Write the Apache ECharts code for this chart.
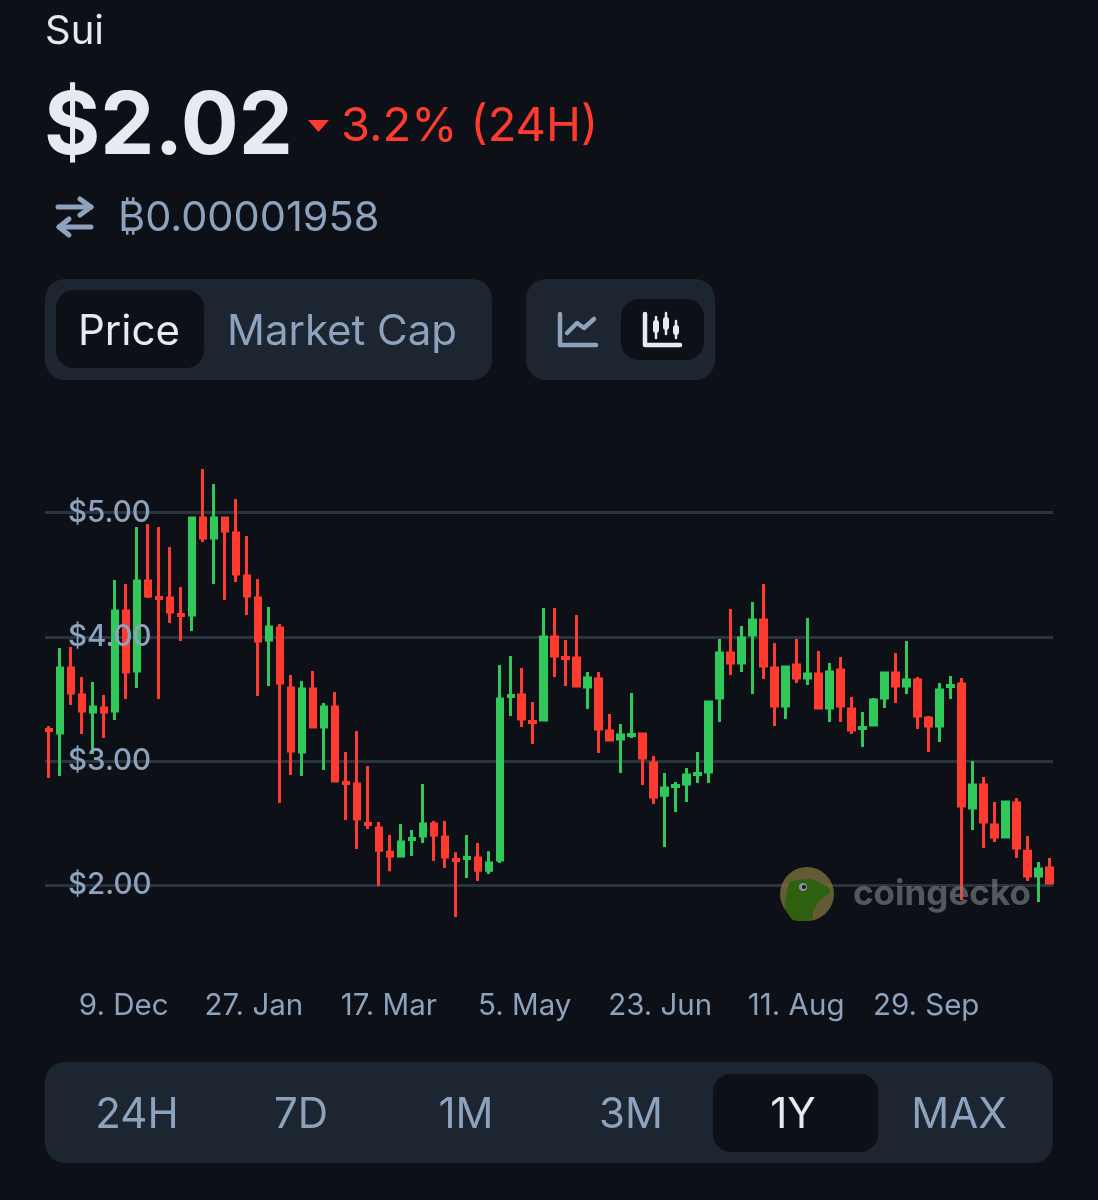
<!DOCTYPE html>
<html>
<head>
<meta charset="utf-8">
<title>Sui</title>
<script src="https://cdn.jsdelivr.net/npm/echarts@6/dist/echarts.min.js"></script>
<style>
	html, body { margin: 0; padding: 0; background: #0d1117; }
	#main { width: 1098px; height: 1200px; }
</style>
</head>
<body>
<div id="main"></div>
<script>
// 4-day candles
var opens = [3.254,3.226,3.750,3.532,3.395,3.428,3.403,4.208,3.725,4.450,
	4.317,4.313,4.180,4.176,4.957,4.796,4.957,4.836,4.490,4.313,
	3.975,4.072,3.589,3.073,3.581,3.275,3.436,2.827,2.815,2.497,
	2.461,2.267,2.235,2.368,2.396,2.493,2.388,2.207,2.215,2.219,
	2.122,2.203,3.520,3.532,3.319,3.331,3.999,3.834,3.830,3.597,
	3.661,3.242,3.178,3.206,3.218,2.985,2.726,2.795,2.815,2.892,
	2.912,3.508,3.870,3.789,4.015,4.136,3.750,3.444,3.774,3.669,
	3.701,3.428,3.733,3.420,3.262,3.291,3.508,3.709,3.605,3.653,
	3.347,3.283,3.601,3.621,2.622,2.807,2.485,2.388,2.662,2.275,
	2.074,2.139];
var closes = [3.246,3.750,3.548,3.403,3.436,3.395,4.208,3.717,4.450,4.329,
	4.309,4.200,4.172,4.957,4.796,4.957,4.852,4.506,4.329,3.967,
	4.080,3.629,3.081,3.581,3.275,3.436,2.839,2.819,2.533,2.489,
	2.283,2.235,2.348,2.376,2.493,2.404,2.227,2.199,2.223,2.122,
	2.179,3.500,3.528,3.339,3.311,3.999,3.846,3.826,3.605,3.669,
	3.258,3.170,3.210,3.214,3.025,2.710,2.783,2.803,2.888,2.900,
	3.476,3.870,3.789,3.991,4.136,3.766,3.444,3.758,3.669,3.701,
	3.428,3.717,3.444,3.250,3.270,3.492,3.709,3.605,3.653,3.363,
	3.283,3.572,3.609,2.638,2.807,2.509,2.388,2.670,2.300,2.074,
	2.131,2.018];
var lows = [2.864,2.880,3.452,3.218,3.057,3.186,3.331,3.500,3.589,4.313,
	3.500,4.112,3.967,4.048,4.764,4.426,4.297,4.442,4.176,3.524,
	3.605,2.662,2.888,2.880,3.267,2.928,2.831,2.525,2.292,2.453,
	1.994,2.114,2.227,2.235,2.340,2.195,2.139,1.744,2.058,2.034,
	2.090,2.179,3.363,3.275,3.137,3.323,3.677,3.605,3.597,3.420,
	3.065,3.162,2.904,3.186,2.807,2.654,2.308,2.590,2.670,2.823,
	2.823,3.315,3.693,3.717,3.540,3.661,3.283,3.339,3.629,3.613,
	3.420,3.315,3.315,3.218,3.113,3.283,3.428,3.468,3.540,3.258,
	3.073,3.154,3.500,1.881,2.445,2.300,2.348,2.380,2.219,2.034,
	1.865,2.010];
var highs = [3.283,3.911,3.919,3.677,3.637,3.532,4.458,4.426,4.885,4.909,
	4.885,4.724,4.402,4.965,5.352,5.231,4.965,5.110,4.812,4.466,
	4.241,4.104,3.693,3.645,3.725,3.468,3.556,3.073,3.242,2.961,
	2.509,2.404,2.493,2.445,2.815,2.517,2.517,2.267,2.404,2.340,
	2.275,3.773,3.846,3.750,3.476,4.232,4.232,3.975,4.176,3.717,
	3.717,3.379,3.299,3.548,3.226,3.041,2.904,2.831,2.944,3.073,
	3.484,3.983,4.224,4.088,4.281,4.426,3.951,3.766,3.983,4.152,
	3.886,3.790,3.838,3.516,3.395,3.508,3.717,3.870,3.967,3.677,
	3.363,3.629,3.685,3.669,3.001,2.872,2.670,2.678,2.702,2.396,
	2.187,2.219];
var xLabels = ['9. Dec','27. Jan','17. Mar','5. May','23. Jun','11. Aug','29. Sep'];
var xLabelSlots = [6.78,18.63,30.9,43.27,55.6,67.97,79.8];
var yTicks = [2,3,4,5];
var rangeTabs = ['24H','7D','1M','3M','1Y','MAX'];

var bg = '#0d1117', panel = '#1c2530', muted = '#8da2bd', light = '#e6ebf2', red = '#ff3b30', green = '#30c85a';
var fontName = 'Inter, "Noto Sans", sans-serif';

var candleData = [];
for (var i = 0; i < opens.length; i++) {
	candleData.push([i, opens[i], closes[i], lows[i], highs[i]]);
}

var txt = function(text, x, y, size, fill, weight, align) {
	return {
		type: 'text', z: 20,
		style: {
			text: text, x: x, y: y, fill: fill,
			font: (weight || 400) + ' ' + size + 'px ' + fontName,
			textAlign: align || 'left', textVerticalAlign: 'middle'
		}
	};
};
var box = function(x, y, w, h, r, fill) {
	return { type: 'rect', z: 1, shape: { x: x, y: y, width: w, height: h, r: r }, style: { fill: fill } };
};
var line = function(points, color, width) {
	return { type: 'polyline', z: 20, shape: { points: points }, style: { stroke: color, lineWidth: width, fill: null, lineCap: 'round', lineJoin: 'round' } };
};

var graphics = [
	txt('Sui', 45, 32, 40, light),
	txt('$2.02', 44, 128, 86, light, 700),
	{ type: 'polygon', z: 20, shape: { points: [[308,120],[329,120],[318.5,132]] }, style: { fill: red } },
	txt('3.2% (24H)', 341, 127, 47, red),
	line([[58,207],[91,207]], muted, 5),
	line([[80,199],[91,207],[80,215]], muted, 5),
	line([[91,227],[59,227]], muted, 5),
	line([[69,219],[59,227],[69,235]], muted, 5),
	txt('\u20BF0.00001958', 118, 219, 41.5, muted),
	// tabs
	box(45, 279, 447, 101, 20, panel),
	box(56, 290, 148, 78, 18, bg),
	txt('Price', 129, 332, 42, light, 400, 'center'),
	txt('Market Cap', 342, 332, 42, muted, 400, 'center'),
	box(526, 279, 189, 101, 20, panel),
	box(621, 299, 83, 61, 18, bg),
	line([[560,314],[560,345],[596,345]], muted, 4.5),
	line([[567,333],[577,323],[584,328],[594,319]], muted, 4.5),
	line([[645,314],[645,345],[680,345]], light, 4.5),
	line([[656,317],[656,338]], light, 2.5),
	box(653, 320, 6, 13, 3, light),
	line([[666,313],[666,334]], light, 2.5),
	box(663, 317, 6, 13, 3, light),
	line([[676,321],[676,338]], light, 2.5),
	box(673, 325, 6, 10, 3, light),
	// watermark
	{ type: 'circle', z: 10, shape: { cx: 807, cy: 894, r: 27 }, style: { fill: 'rgba(134,120,64,0.72)' } },
	{ type: 'polygon', z: 11, shape: { points: [[790,882],[810,879],[828,887],[830,893],[820,900],[813,912],[812,920],[793,920],[785,908],[787,892]], smooth: 0.2 }, style: { fill: '#2f6010' } },
	{ type: 'circle', z: 12, shape: { cx: 803, cy: 887, r: 4 }, style: { fill: '#8f8f9a' } },
	{ type: 'circle', z: 13, shape: { cx: 804, cy: 887, r: 2 }, style: { fill: '#15181c' } },
	{ type: 'text', z: 10, style: { text: 'coingecko', x: 853, y: 894, fill: 'rgba(128,132,138,0.62)', font: '700 35px ' + fontName, textVerticalAlign: 'middle' } },
	// range buttons
	box(45, 1062, 1008, 101, 20, panel),
	box(713, 1074, 165, 78, 18, bg)
];
var tabCenters = [137, 301, 466, 631, 793, 959];
for (var t = 0; t < rangeTabs.length; t++) {
	graphics.push(txt(rangeTabs[t], tabCenters[t], 1115, 42, rangeTabs[t] == '1Y' ? light : muted, 400, 'center'));
}

var priceChart = echarts.init(document.getElementById('main'), null, { renderer: 'canvas' });
var priceOption = {
	backgroundColor: bg,
	animation: false,
	grid: { left: 45, width: 1008, top: 512.7, height: 372.6 },
	xAxis: {
		type: 'value',
		min: -0.38,
		max: 91.34,
		axisLine: { show: false },
		axisTick: { show: false },
		splitLine: { show: false },
		axisLabel: {
			customValues: xLabelSlots,
			margin: 106,
			color: muted,
			fontFamily: fontName,
			fontSize: 29.5,
			formatter: function(v) { return xLabels[xLabelSlots.indexOf(v)]; }
		}
	},
	yAxis: [{
		type: 'value',
		min: 2,
		max: 5,
		interval: 1,
		axisLine: { show: false },
		axisTick: { show: false },
		axisLabel: { show: false },
		splitLine: { lineStyle: { color: '#2a3441', width: 3 } }
	}, {
		// labels sit above the candles, grid lines below them
		type: 'value',
		z: 8,
		min: 2,
		max: 5,
		interval: 1,
		position: 'left',
		axisLine: { show: false },
		axisTick: { show: false },
		splitLine: { show: false },
		axisLabel: {
			inside: true,
			margin: 23,
			color: muted,
			fontFamily: fontName,
			fontSize: 29.5,
			fontWeight: 500,
			customValues: yTicks,
			formatter: function(v) { return '$' + v.toFixed(2); }
		}
	}],
	series: [{
		type: 'candlestick',
		clip: false,
		barWidth: 6,
		data: candleData,
		itemStyle: {
			color: green,
			color0: red,
			borderColor: green,
			borderColor0: red,
			borderWidth: 3
		}
	}],
	graphic: { elements: graphics }
};
priceChart.setOption(priceOption);
</script>
</body>
</html>
